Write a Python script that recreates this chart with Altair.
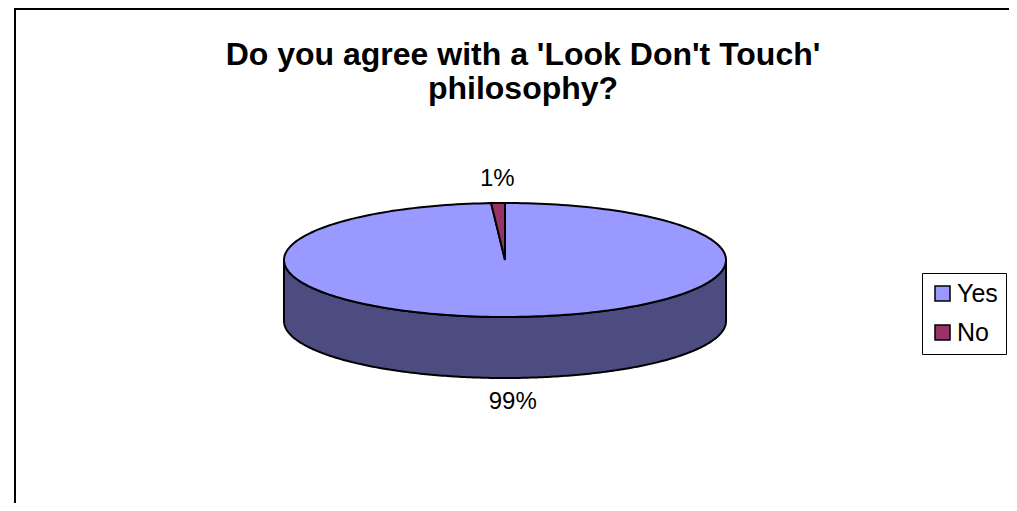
import altair as alt
import pandas as pd

# ---- data ----
title_lines = ["Do you agree with a 'Look Don't Touch'", "philosophy?"]
categories = ["Yes", "No"]
values = [99, 1]

# ---- style ----
colors = ["#9999FF", "#993366"]
side_colors = ["#4C4C80", "#4D1A33"]
FONT = "Liberation Sans"

W, H = 1001, 495
CX, CY = 497, 252
RX, RY, DEPTH = 221, 57, 61
N = 240
L = 24

df = pd.DataFrame({"category": categories, "value": values,
                   "idx": list(range(len(categories)))})
one = pd.DataFrame({"title": ["\n".join(title_lines)]})

xs = alt.Scale(domain=[0, W], nice=False, zero=False)
ys = alt.Scale(domain=[0, H], nice=False, zero=False, reverse=True)

base = alt.Chart(df).transform_joinaggregate(
    total="sum(value)"
).transform_window(
    cum="sum(value)", sort=[alt.SortField("idx")], frame=[None, 0]
).transform_calculate(
    a0="2*PI*(datum.cum - datum.value)/datum.total",
    a1="2*PI*datum.cum/datum.total",
)

# front side of the tilted pie
side = base.transform_calculate(
    b0="max(datum.a0, PI/2)", b1="min(datum.a1, 3*PI/2)"
).transform_filter("datum.b1 > datum.b0").transform_calculate(
    pts=f"sequence(0, {N + 1})"
).transform_flatten(["pts"]).transform_calculate(
    th=f"datum.b0 + (datum.b1 - datum.b0)*datum.pts/{N}"
).transform_calculate(
    px=f"{CX} + {RX}*sin(datum.th)",
    py=f"{CY} - {RY}*cos(datum.th)",
    py2=f"{CY} - {RY}*cos(datum.th) + {DEPTH}",
).mark_area(orient="vertical", stroke="black", strokeWidth=2, strokeJoin="round").encode(
    x=alt.X("px:Q", scale=xs, axis=None),
    y=alt.Y("py:Q", scale=ys, axis=None),
    y2="py2:Q",
    detail="category:N",
    fill=alt.Fill("category:N", scale=alt.Scale(domain=categories, range=side_colors), legend=None),
)

# top face wedges
top = base.transform_calculate(
    pts=f"sequence(0, {N + 2})"
).transform_flatten(["pts"]).transform_calculate(
    th=f"datum.a0 + (datum.a1 - datum.a0)*(datum.pts - 1)/{N - 1}",
    ctr=f"datum.pts == 0 || datum.pts == {N + 1}",
).transform_calculate(
    px=f"datum.ctr ? {CX} : {CX} + {RX}*sin(datum.th)",
    py=f"datum.ctr ? {CY} : {CY} - {RY}*cos(datum.th)",
).mark_line(stroke="black", strokeWidth=2, strokeJoin="round").encode(
    x=alt.X("px:Q", scale=xs, axis=None),
    y=alt.Y("py:Q", scale=ys, axis=None),
    order="pts:Q",
    fill=alt.Fill(
        "category:N",
        scale=alt.Scale(domain=categories, range=colors),
        sort=categories,
        legend=alt.Legend(
            title=None, orient="none", legendX=914, legendY=265,
            symbolType="square", symbolSize=225, symbolStrokeColor="black",
            symbolStrokeWidth=1.5, symbolOpacity=1,
            labelFont=FONT, labelFontSize=25, labelColor="black", labelOffset=2,
            padding=8, rowPadding=13, strokeColor="black", fillColor="white",
        ),
    ),
)

labels = base.transform_calculate(
    mid="(datum.a0 + datum.a1)/2"
).transform_calculate(
    lx=f"{CX} + ({RX} + {L})*sin(datum.mid)",
    ly=f"{CY} - ({RY} + {L})*cos(datum.mid) + (cos(datum.mid) < 0 ? {DEPTH} : 0)",
    pct="format(datum.value/datum.total, '.0%')",
).mark_text(font=FONT, fontSize=24, baseline="middle", align="center", color="black").encode(
    x=alt.X("lx:Q", scale=xs, axis=None),
    y=alt.Y("ly:Q", scale=ys, axis=None),
    text="pct:N",
)

title = alt.Chart(one).mark_text(
    font=FONT, fontSize=32, fontWeight="bold", align="center", baseline="alphabetic",
    lineBreak="\n", lineHeight=34, color="black"
).encode(x=alt.value(515), y=alt.value(57), text="title:N")

frame_top = alt.Chart(one).mark_rule(color="black", strokeWidth=2).encode(
    x=alt.value(6), x2=alt.value(W), y=alt.value(1))
frame_left = alt.Chart(one).mark_rule(color="black", strokeWidth=2).encode(
    x=alt.value(7), y=alt.value(0), y2=alt.value(H))

chart = alt.layer(frame_top, frame_left, side, top, labels, title).resolve_scale(
    fill="independent"
).properties(
    width=W, height=H, autosize=alt.AutoSizeParams(type="none"), padding=0,
    background="white",
).configure_view(strokeWidth=0)

chart.save("out.html", embed_options={"renderer": "svg", "actions": False})
